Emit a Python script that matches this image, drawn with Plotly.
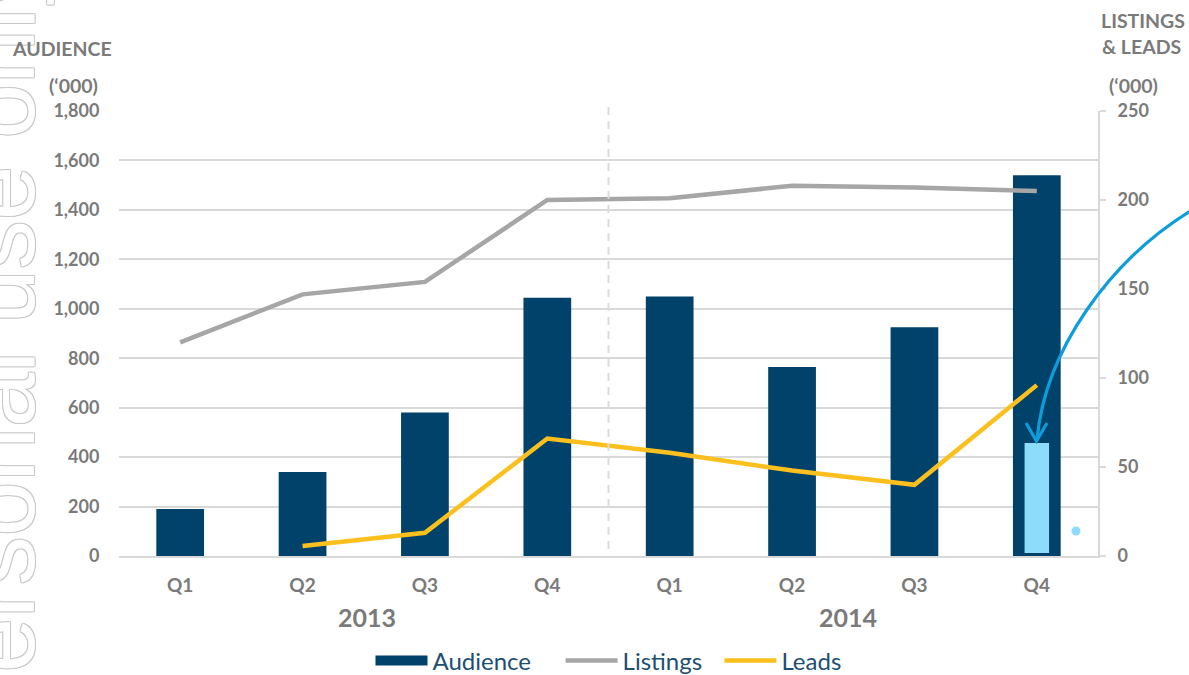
import plotly.graph_objects as go

# ---------------- data ----------------
quarters = ["Q1", "Q2", "Q3", "Q4", "Q1", "Q2", "Q3", "Q4"]
years = ["2013", "2014"]
audience = [190, 340, 580, 1045, 1050, 765, 925, 1540]          # '000, left axis
listings = [120, 147, 154, 200, 201, 208, 207, 205]             # '000, right axis
leads = [None, 5.6, 13, 66, 58, 48, 40, 96]                     # '000, right axis
highlight_base = [12]
highlight_value = [445]
highlight_x = [7]
dot_x = [7.32]
dot_y = [101]

idx = list(range(len(quarters)))

W, H = 1189, 675
L, R, T, B = 119, 91, 111, 119
PW, PH = W - L - R, H - T - B


def px(x):
    return (x - L) / PW


def py(y):
    return (H - B - y) / PH


NAVY = "#00426a"
GREY_LINE = "#a6a6a6"
YELLOW = "#fcc01e"
LIGHT = "#8edcfb"
TXT = "#7a7a7a"
GRID = "#d9d9d9"
FONT = "Lato"
GAP1 = "\u00a0" * 4
GAP2 = "\u00a0" * 2

fig = go.Figure()

fig.add_trace(go.Bar(x=idx, y=audience, name="Audience", marker=dict(color=NAVY, line=dict(width=0)),
                     width=0.39, showlegend=False))
fig.add_trace(go.Bar(x=highlight_x, y=highlight_value, base=highlight_base, marker=dict(color=LIGHT, line=dict(width=0)),
                     width=0.2, showlegend=False, name="highlight"))
fig.add_trace(go.Scatter(x=dot_x, y=dot_y, mode="markers", marker=dict(color=LIGHT, size=9),
                         showlegend=False, name="dot"))
# legend swatch for Audience
fig.add_trace(go.Scatter(x=[None], y=[None], mode="lines", name="Audience" + GAP1,
                         line=dict(color=NAVY, width=20)))
fig.add_trace(go.Scatter(x=idx, y=listings, mode="lines", name="Listings" + GAP2, yaxis="y2",
                         line=dict(color=GREY_LINE, width=4.5)))
fig.add_trace(go.Scatter(x=idx, y=leads, mode="lines", name="Leads", yaxis="y2",
                         line=dict(color=YELLOW, width=4.5)))

tickfont = dict(family=FONT, size=18, color=TXT, weight="bold")

fig.update_layout(
    width=W, height=H, autosize=False,
    margin=dict(l=L, r=R, t=T, b=B, autoexpand=False),
    paper_bgcolor="white", plot_bgcolor="white",
    barmode="overlay",
    font=dict(family=FONT),
    xaxis=dict(range=[-0.5, 7.5], tickvals=idx, ticktext=quarters, showgrid=False,
               showline=True, linecolor=GRID, linewidth=2, zeroline=False, automargin=False,
               ticks="outside", ticklen=11, tickcolor="rgba(0,0,0,0)",
               tickfont=dict(family=FONT, size=19, color=TXT, weight="bold")),
    yaxis=dict(range=[0, 1800], dtick=200, tickformat=",", showgrid=True, gridcolor=GRID, gridwidth=1.5,
               showline=False, zeroline=False, ticks="outside", ticklen=15, tickcolor="rgba(0,0,0,0)",
               automargin=False, tickfont=tickfont),
    yaxis2=dict(range=[0, 250], dtick=50, overlaying="y", side="right", showgrid=False, zeroline=False,
                showline=True, linecolor=GRID, linewidth=2, ticks="outside", ticklen=6, tickcolor=GRID,
                tickwidth=2, ticklabelstandoff=8, automargin=False, tickfont=tickfont),
    legend=dict(orientation="h", x=0.5, xanchor="center", y=py(661), yanchor="middle",
                font=dict(family=FONT, size=24, color="#1d4f73"), itemwidth=52, tracegroupgap=0,
                bgcolor="rgba(0,0,0,0)"),
)

annotations = []
# watermark
annotations.append(dict(text="personal use only", textangle=-90, xref="paper", yref="paper",
                        x=px(0), y=py(343), xanchor="center", yanchor="middle", showarrow=False,
                        font=dict(family="Liberation Sans", size=98, color="white",
                                  shadow="1px 1px 0 #c9c9c9, -1px -1px 0 #c9c9c9, 1px -1px 0 #c9c9c9, -1px 1px 0 #c9c9c9")))
titlefont = dict(family=FONT, size=19.5, color=TXT, weight="bold")
for text, x, y in [("AUDIENCE", 62, 48), ("(\u2018000)", 73, 85),
                   ("LISTINGS", 1143, 20), ("& LEADS", 1141, 47), ("(\u2018000)", 1133, 85)]:
    annotations.append(dict(text=text, xref="paper", yref="paper", x=px(x), y=py(y),
                            xanchor="center", yanchor="middle", showarrow=False, font=titlefont))
year_offsets = [0.03, -0.04]
for i, yr in enumerate(years):
    annotations.append(dict(text=yr, xref="x", yref="paper", x=1.5 + 4 * i + year_offsets[i], y=py(617),
                            xanchor="center", yanchor="middle", showarrow=False,
                            font=dict(family=FONT, size=25, color=TXT, weight="bold")))
fig.update_layout(annotations=annotations)

shapes = []
shapes.append(dict(type="line", xref="x", yref="paper", x0=3.5, x1=3.5, y0=py(549), y1=py(104),
                   line=dict(color="#dcdcdc", width=2, dash="8px,6px")))


def P(x, y):
    return f"{px(x):.5f},{py(y):.5f}"


arc = f"M {P(1192, 210)} C {P(1110, 260)} {P(1045, 350)} {P(1037, 440)}"
head = f"M {P(1026, 423)} L {P(1036.5, 441)} L {P(1047, 423)}"
for p in (arc, head):
    shapes.append(dict(type="path", xref="paper", yref="paper", path=p,
                       line=dict(color="#0d9ddb", width=3.2)))
fig.update_layout(shapes=shapes)

fig.write_html("out.html", config={"displayModeBar": False},
               post_script="document.body.style.margin='0';")
